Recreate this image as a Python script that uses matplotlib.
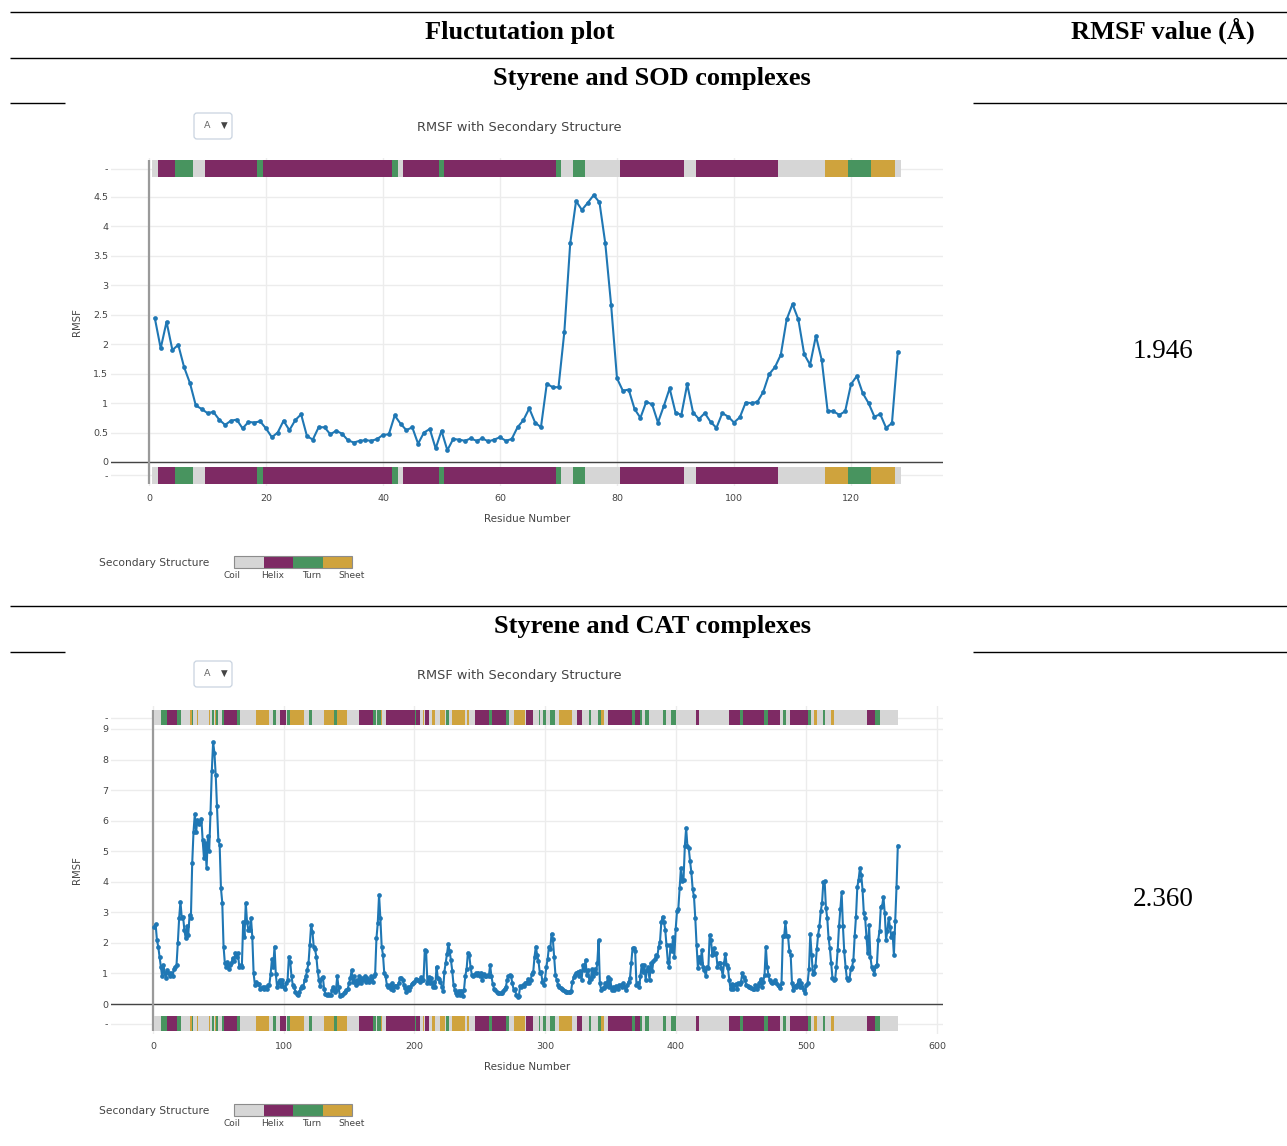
import matplotlib
matplotlib.use("Agg")
import matplotlib.pyplot as plt
from matplotlib.patches import Rectangle, FancyBboxPatch
import numpy as np

# ---------------- data ----------------
sod_rmsf = [2.44, 1.93, 2.38, 1.90, 1.99, 1.61, 1.34, 0.96, 0.90, 0.83,
            0.85, 0.72, 0.63, 0.70, 0.72, 0.57, 0.68, 0.67, 0.69, 0.57,
            0.42, 0.50, 0.70, 0.54, 0.71, 0.81, 0.44, 0.38, 0.59, 0.59,
            0.47, 0.53, 0.48, 0.37, 0.33, 0.36, 0.37, 0.36, 0.39, 0.46,
            0.47, 0.79, 0.65, 0.54, 0.59, 0.31, 0.50, 0.56, 0.23, 0.53,
            0.20, 0.39, 0.38, 0.36, 0.40, 0.36, 0.40, 0.35, 0.38, 0.42,
            0.36, 0.39, 0.59, 0.71, 0.91, 0.67, 0.59, 1.33, 1.27, 1.27,
            2.21, 3.71, 4.43, 4.28, 4.40, 4.53, 4.41, 3.71, 2.66, 1.42,
            1.21, 1.23, 0.90, 0.75, 1.02, 0.98, 0.67, 0.95, 1.25, 0.84,
            0.80, 1.32, 0.84, 0.73, 0.83, 0.68, 0.58, 0.83, 0.77, 0.67,
            0.76, 1.01, 1.00, 1.02, 1.19, 1.49, 1.61, 1.82, 2.42, 2.68,
            2.42, 1.83, 1.65, 2.14, 1.73, 0.87, 0.86, 0.80, 0.86, 1.32,
            1.46, 1.17, 1.00, 0.77, 0.81, 0.58, 0.66, 1.87]

# secondary structure segments (type, first residue, last residue)
sod_ss_type = ["C", "H", "T", "C", "H", "T", "H", "T", "C", "H", "T", "H",
               "T", "C", "T", "C", "H", "C", "H", "C", "E", "T", "E", "C"]
sod_ss_start = [1, 2, 5, 8, 10, 19, 20, 42, 43, 44, 50, 51,
                70, 71, 73, 75, 81, 92, 94, 108, 116, 120, 124, 128]
sod_ss_end = [1, 4, 7, 9, 18, 19, 41, 42, 43, 49, 50, 69,
              70, 72, 74, 80, 91, 93, 107, 115, 119, 123, 127, 128]

cat_rmsf = [
    2.53, 2.61, 2.1, 1.88, 1.55, 1.22, 0.9, 1.28, 1.0,
    0.85, 1.1, 1.0, 0.9, 1.0, 0.9, 1.15, 1.22, 1.28, 2.0,
    2.8, 3.35, 2.83, 2.86, 2.43, 2.15, 2.54, 2.27, 2.92,
    2.83, 4.6, 5.63, 6.22, 5.63, 6.03, 5.88, 5.95, 6.07, 5.36,
    4.78, 5.27, 4.45, 5.49, 5.0, 6.25, 7.62, 8.57, 8.22, 7.49,
    6.47, 5.38, 5.21, 3.79, 3.32, 1.88, 1.33, 1.22, 1.38, 1.16,
    1.28, 1.33, 1.51, 1.41, 1.66, 1.55, 1.66, 1.22, 1.28, 1.22,
    2.67, 2.19, 3.3, 2.67, 2.43, 2.43, 2.81, 2.19, 1.0, 0.62,
    0.73, 0.66, 0.66, 0.48, 0.52, 0.55, 0.49, 0.55, 0.49, 0.61, 0.62,
    0.97, 1.46, 1.22, 1.88, 0.97, 0.55, 0.7, 0.79, 0.59, 0.79,
    0.55, 0.48, 0.68, 0.79, 1.55, 1.39, 0.9, 0.62, 0.57, 0.4,
    0.33, 0.3, 0.4, 0.51, 0.59, 0.55, 0.79, 0.9, 1.11, 1.33,
    1.93, 2.57, 2.37, 1.88, 1.79, 1.55, 1.09, 0.79, 0.59, 0.84,
    0.87, 0.48, 0.32, 0.3, 0.33, 0.28, 0.3, 0.46, 0.55, 0.39,
    0.46, 0.9, 0.55, 0.26, 0.28, 0.31, 0.35, 0.4, 0.46, 0.48,
    0.68, 0.84, 1.11, 0.73, 0.9, 0.62, 0.79, 0.68, 0.9, 0.68,
    0.84, 0.79, 0.9, 0.73, 0.86, 0.73, 0.79, 0.9, 0.73, 0.9,
    0.98, 2.15, 2.64, 3.57, 2.81, 1.88, 1.61, 1.0, 0.9, 0.62,
    0.57, 0.62, 0.5, 0.68, 0.46, 0.6, 0.59, 0.57, 0.68, 0.84, 0.84,
    0.79, 0.62, 0.51, 0.39, 0.55, 0.46, 0.57, 0.66, 0.7, 0.73,
    0.81, 0.77, 0.79, 0.73, 0.87, 0.79, 0.77, 1.77, 1.72, 0.7,
    0.87, 0.68, 0.84, 0.55, 0.73, 0.57, 1.22, 0.84, 0.81, 0.73,
    0.57, 0.44, 1.06, 1.35, 1.64, 1.96, 1.72, 1.44, 1.09, 0.62,
    0.46, 0.35, 0.3, 0.44, 0.28, 0.44, 0.27, 0.46, 0.92, 1.14,
    1.68, 1.61, 1.22, 0.95, 0.9, 0.95, 1.0, 0.95, 1.03, 0.92,
    1.03, 0.79, 0.98, 0.93, 0.9, 0.95, 0.9, 1.28, 0.9, 0.66,
    0.5, 0.46, 0.4, 0.37, 0.35, 0.36, 0.37, 0.44, 0.5, 0.55, 0.79,
    0.9, 0.95, 0.9, 0.68, 0.46, 0.48, 0.3, 0.22, 0.26, 0.59,
    0.55, 0.62, 0.59, 0.7, 0.7, 0.81, 0.7, 0.79, 0.98, 1.06,
    1.55, 1.88, 1.6, 1.4, 1.03, 1.06, 0.73, 0.62, 0.81, 1.22,
    1.46, 1.88, 1.79, 2.3, 2.12, 1.55, 0.95, 0.79, 0.62, 0.57,
    0.51, 0.48, 0.46, 0.44, 0.4, 0.38, 0.39, 0.4, 0.44, 0.73, 0.87,
    0.95, 1.0, 1.06, 0.9, 1.09, 0.79, 1.28, 1.11, 1.44, 0.95,
    1.11, 0.73, 0.81, 1.14, 0.9, 1.14, 1.0, 1.33, 2.08, 0.68,
    0.46, 0.52, 0.51, 0.7, 0.59, 0.87, 0.55, 0.81, 0.46, 0.55, 0.46,
    0.59, 0.51, 0.48, 0.62, 0.62, 0.57, 0.68, 0.55, 0.46, 0.62,
    0.73, 0.84, 1.33, 1.83, 1.83, 1.72, 0.62, 0.7, 0.55, 0.9,
    1.28, 1.06, 1.28, 0.79, 1.11, 1.2, 0.77, 1.33, 1.09, 1.42, 1.46,
    1.6, 1.57, 1.88, 2.04, 2.67, 2.86, 2.67, 2.43, 1.93, 1.39,
    1.22, 1.93, 1.72, 2.19, 1.55, 2.45, 3.03, 3.1, 3.79, 4.45,
    4.01, 4.07, 5.16, 5.76, 5.16, 5.1, 4.67, 4.31, 3.76, 3.52,
    2.81, 1.93, 1.17, 1.55, 1.33, 1.77, 1.22, 1.11, 0.92, 1.22,
    1.17, 2.26, 2.1, 1.61, 1.83, 1.64, 1.66, 1.22, 1.33, 1.33,
    1.17, 0.92, 1.33, 1.64, 1.28, 1.17, 0.79, 0.48, 0.66, 0.48,
    0.62, 0.64, 0.48, 0.68, 0.66, 0.73, 1.0, 0.87, 0.79, 0.62, 0.59,
    0.55, 0.55, 0.51, 0.5, 0.48, 0.62, 0.48, 0.59, 0.7, 0.81,
    0.55, 0.73, 0.95, 1.88, 1.22, 0.95, 0.77, 0.72, 0.7, 0.73, 0.79,
    0.68, 0.62, 0.59, 0.51, 0.68, 2.21, 2.21, 2.67, 2.21, 2.21, 1.72,
    1.61, 0.68, 0.46, 0.59, 0.55, 0.62, 0.77, 0.57, 0.7, 0.57,
    0.46, 0.37, 0.62, 0.7, 1.14, 2.28, 1.61, 0.98, 1.03,
    1.24, 1.79, 2.26, 2.54, 3.03, 3.3, 3.98, 4.01, 3.14, 2.81,
    2.15, 1.83, 1.33, 0.84, 0.79, 0.81, 1.22, 1.77, 2.54, 3.1,
    3.65, 2.54, 1.72, 1.22, 0.84, 0.79, 0.81, 1.14, 1.22, 1.44,
    2.23, 2.86, 3.83, 4.07, 4.45, 4.23, 3.74, 2.97, 2.81, 2.19,
    1.66, 2.59, 1.55, 1.22, 1.14, 0.98, 1.24, 1.28, 2.1, 2.4,
    3.19, 3.21, 3.5, 2.97, 2.1, 2.4, 2.81, 2.53, 2.2, 2.31, 1.6,
    2.7, 3.83, 5.18]

# CAT secondary structure: non-coil segments (everything else is coil)
cat_helix = [(11, 18), (55, 64), (98, 101), (158, 168), (179, 200), (202, 204),
             (209, 211), (247, 257), (260, 270), (286, 290), (325, 328),
             (349, 366), (369, 372), (416, 417), (441, 449), (452, 467),
             (471, 479), (488, 501), (547, 552)]
cat_turn = [(7, 10), (19, 21), (30, 30), (46, 46), (49, 49), (53, 54), (65, 66),
            (92, 94), (103, 104), (120, 121), (139, 140), (169, 170),
            (172, 174), (201, 201), (225, 226), (258, 259), (271, 272),
            (296, 296), (299, 300), (304, 307), (334, 335), (341, 342),
            (367, 368), (373, 374), (377, 379), (391, 392), (397, 400),
            (450, 451), (468, 470), (483, 484), (502, 503), (513, 514),
            (553, 556)]
cat_sheet = [(29, 29), (34, 34), (43, 43), (48, 48), (79, 88), (105, 115),
             (131, 138), (141, 148), (175, 175), (207, 207), (214, 215),
             (220, 223), (229, 238), (241, 241), (277, 284), (311, 320),
             (343, 345), (506, 508), (519, 521)]

sod_rmsf_value = "1.946"
cat_rmsf_value = "2.360"
legend_labels = ["Coil", "Helix", "Turn", "Sheet"]
ss_codes = ["C", "H", "T", "E"]

# ---------------- styling ----------------
SS_COLORS = {"C": "#d6d6d6", "H": "#7e2a64", "T": "#48945f", "E": "#cfa33d"}
LINE_C = "#1f77b4"
TXT_C = "#444444"
PFONT = "DejaVu Sans"
SERIF = "Liberation Serif"

W, H = 1287, 1146
fig = plt.figure(figsize=(W / 100, H / 100), dpi=100)
fig.patch.set_facecolor("white")

bg = fig.add_axes([0, 0, 1, 1])
bg.set_xlim(0, W)
bg.set_ylim(H, 0)
bg.axis("off")


def hline(y, x0, x1):
    bg.plot([x0, x1], [y, y], color="black", lw=1.0, solid_capstyle="butt")


def add_ax(l, t, r, b):
    return fig.add_axes([l / W, 1 - b / H, (r - l) / W, (b - t) / H])


# table framework
hline(12, 10, 1287)
hline(58, 10, 1287)
hline(103, 10, 65)
hline(103, 973, 1287)
hline(606, 10, 1287)
hline(652, 10, 65)
hline(652, 973, 1287)

hdr = dict(family=SERIF, fontweight="bold", fontsize=19, ha="center", va="center")
bg.text(520, 32, "Fluctutation plot", **hdr)
bg.text(1163, 31, "RMSF value (Å)", **hdr)
bg.text(652, 78, "Styrene and SOD complexes", **hdr)
bg.text(652, 627, "Styrene and CAT complexes", **hdr)
val = dict(family=SERIF, fontsize=19.5, ha="center", va="center")
bg.text(1163, 351, sod_rmsf_value, **val)
bg.text(1163, 900, cat_rmsf_value, **val)


def expand_segments(n, types, starts, ends):
    ss = ["C"] * n
    for t, s, e in zip(types, starts, ends):
        for r in range(s, e + 1):
            ss[r - 1] = t
    return ss


def panel(dy, rmsf, ss, x_px0, px_per_res, y_px0, px_per_unit,
          xticks, yticks, ytick_labels, bar_top_px, bar_bot_px, bar_h_px):
    left, right = 111, 943
    top, bottom = 158 + dy, 486 + dy
    ax = add_ax(left, top, right, bottom)
    xlim = ((left - x_px0) / px_per_res, (right - x_px0) / px_per_res)
    ylim = ((y_px0 + dy - bottom) / px_per_unit, (y_px0 + dy - top) / px_per_unit)
    ax.set_xlim(*xlim)
    ax.set_ylim(*ylim)
    for s in ax.spines.values():
        s.set_visible(False)
    ax.set_facecolor("white")

    def val_of(px):
        return (y_px0 + dy - px) / px_per_unit

    bar_h = bar_h_px / px_per_unit
    top_bot = val_of(bar_top_px + dy + bar_h_px)
    bot_bot = val_of(bar_bot_px + dy + bar_h_px)
    dash_top = top_bot + bar_h / 2
    dash_bot = bot_bot + bar_h / 2

    yt = list(yticks) + [dash_top, dash_bot]
    ytl = list(ytick_labels) + ["-", "-"]
    ax.set_yticks(yt)
    ax.set_yticklabels(ytl)
    ax.set_xticks(xticks)
    ax.set_xticklabels([str(x) for x in xticks])
    ax.tick_params(axis="both", length=0, labelsize=6.8, labelcolor=TXT_C)
    ax.tick_params(axis="y", pad=2)
    ax.tick_params(axis="x", pad=6)
    for lab in ax.get_xticklabels() + ax.get_yticklabels():
        lab.set_fontfamily(PFONT)
    ax.grid(True, color="#ececec", lw=1.0)
    ax.set_axisbelow(True)

    res = np.arange(1, len(rmsf) + 1)
    cols = [SS_COLORS[c] for c in ss]
    ax.bar(res, bar_h, bottom=top_bot, width=1.0, color=cols, linewidth=0, zorder=3)
    ax.bar(res, bar_h, bottom=bot_bot, width=1.0, color=cols, linewidth=0, zorder=3)

    ax.axhline(0, color="#444444", lw=1.0, zorder=2)
    ax.vlines(0, bot_bot, top_bot + bar_h, color="#9a9a9a", lw=1.6, zorder=2)

    ax.plot(res, rmsf, "-o", color=LINE_C, lw=1.5, ms=3.4, mew=0, zorder=4)

    # plotly-like annotations
    bg.text(519, 128 + dy, "RMSF with Secondary Structure", family=PFONT,
            fontsize=9.3, color=TXT_C, ha="center", va="center")
    bg.add_patch(FancyBboxPatch((194, 113 + dy), 38, 26,
                                boxstyle="round,pad=0,rounding_size=3",
                                fc="white", ec="#c9d3e0", lw=0.9))
    bg.text(207, 126 + dy, "A", family=PFONT, fontsize=6.8, color="#666666",
            ha="center", va="center")
    bg.text(224, 125 + dy, "▼", family=PFONT, fontsize=6.2, color="#444444",
            ha="center", va="center")
    bg.text(77, 322 + dy, "RMSF", family=PFONT, fontsize=7.3, color=TXT_C,
            rotation=90, ha="center", va="center")
    bg.text(527, 519 + dy, "Residue Number", family=PFONT, fontsize=7.5,
            color=TXT_C, ha="center", va="center")
    bg.text(154, 563 + dy, "Secondary Structure", family=PFONT, fontsize=7.7,
            color=TXT_C, ha="center", va="center")
    cell_w = (352 - 234) / 4
    for i, code in enumerate(ss_codes):
        bg.add_patch(Rectangle((234 + i * cell_w, 556 + dy), cell_w, 12,
                               fc=SS_COLORS[code], ec="none"))
    bg.add_patch(Rectangle((234, 556 + dy), 118, 12, fc="none", ec="#8c8c8c", lw=0.8))
    for lab, x in zip(legend_labels, [232, 273, 312, 352]):
        bg.text(x, 576 + dy, lab, family=PFONT, fontsize=6.5, color=TXT_C,
                ha="center", va="center")
    return ax


sod_ss = expand_segments(len(sod_rmsf), sod_ss_type, sod_ss_start, sod_ss_end)
cat_types, cat_starts, cat_ends = [], [], []
for code, segs in (("H", cat_helix), ("T", cat_turn), ("E", cat_sheet)):
    for s, e in segs:
        cat_types.append(code)
        cat_starts.append(s)
        cat_ends.append(e)
cat_ss = expand_segments(len(cat_rmsf), cat_types, cat_starts, cat_ends)

sod_yt = [0, 0.5, 1, 1.5, 2, 2.5, 3, 3.5, 4, 4.5]
panel(0, sod_rmsf, sod_ss, 149, 5.85, 462, 58.9,
      [0, 20, 40, 60, 80, 100, 120], sod_yt,
      ["0", "0.5", "1", "1.5", "2", "2.5", "3", "3.5", "4", "4.5"],
      160, 467, 17)

cat_yt = list(range(0, 10))
panel(548, cat_rmsf, cat_ss, 153, 1.3067, 456, 30.56,
      [0, 100, 200, 300, 400, 500, 600], cat_yt, [str(v) for v in cat_yt],
      162, 468, 15)

fig.savefig("out.png", dpi=100, facecolor="white")
